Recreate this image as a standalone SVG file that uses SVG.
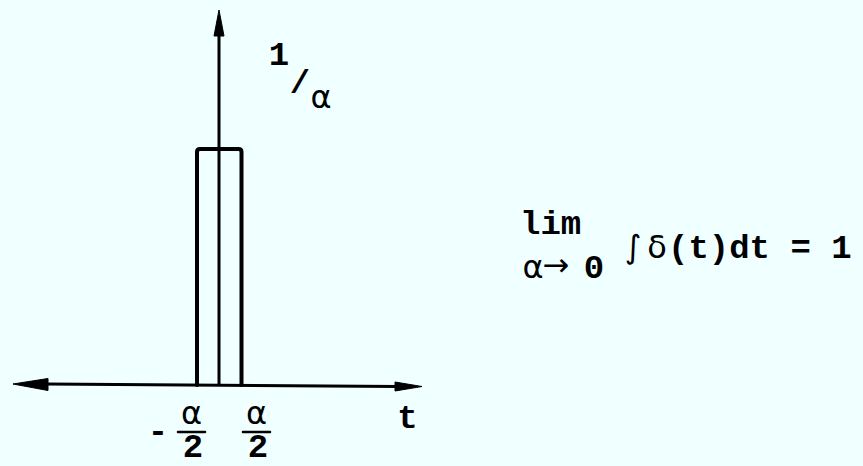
<svg xmlns="http://www.w3.org/2000/svg" width="863" height="466" viewBox="0 0 863 466">
<style>
.ln{stroke:#000;fill:none;stroke-linecap:round;stroke-linejoin:round}
.ah{fill:#000;stroke:#000;stroke-width:1;stroke-linejoin:round}
.mono{font-family:"Liberation Mono","Courier New",monospace;font-weight:bold;font-size:34px;fill:#000}
.gr{font-family:"DejaVu Sans","Liberation Sans",sans-serif;font-size:32px;fill:#000}
</style>
<rect x="0" y="0" width="863" height="466" fill="#F0FFFF"/>
<g id="connectors">
  <path class="ln" d="M219,384 L219,34" stroke-width="3"/>
  <path class="ah" d="M219,10 L224,36 L214,36 Z"/>
  <path class="ln" d="M46,384 L398,386.5" stroke-width="3"/>
  <path class="ah" d="M13,384 L48,378.5 L48,390.5 Z"/>
  <path class="ah" d="M422,386.5 L395,382 L395,391 Z"/>
</g>
<g id="pulse">
  <path class="ln" d="M197,385 L197,152 Q197,149 200,149 L238.5,149 Q241.5,149 241.5,152 L241.5,385" stroke-width="4"/>
</g>
<g id="label-height">
  <text class="mono" x="279" y="65" text-anchor="middle" font-size="35">1</text>
  <text class="mono" x="300" y="93" text-anchor="middle" font-size="42">/</text>
  <text class="gr" x="321" y="108" text-anchor="middle" font-size="34">α</text>
</g>
<g id="label-t">
  <text class="mono" x="407.5" y="428" text-anchor="middle">t</text>
</g>
<g id="label-neg">
  <text class="mono" x="158" y="442" text-anchor="middle" font-size="38">-</text>
  <text class="gr" x="191.5" y="423.5" text-anchor="middle">α</text>
  <path class="ln" d="M178,432 L205,432" stroke-width="2.5"/>
  <text class="mono" x="193" y="457" text-anchor="middle" font-size="29">2</text>
</g>
<g id="label-pos">
  <text class="gr" x="256.5" y="423.5" text-anchor="middle">α</text>
  <path class="ln" d="M243,432 L270,432" stroke-width="2.5"/>
  <text class="mono" x="258" y="457" text-anchor="middle" font-size="29">2</text>
</g>
<g id="formula">
  <text class="mono" x="520" y="234" font-size="35">lim</text>
  <text class="gr" x="533" y="278" text-anchor="middle">α</text>
  <text class="gr" x="556" y="276" text-anchor="middle" font-size="15">→</text>
  <text class="mono" x="594" y="278" text-anchor="middle">0</text>
  <text y="258"><tspan class="gr" x="633" text-anchor="middle" font-size="42">∫</tspan><tspan class="gr" x="657" text-anchor="middle" font-size="32">δ</tspan><tspan class="mono" x="668" font-size="35">(t)dt = 1</tspan></text>
</g>
</svg>
